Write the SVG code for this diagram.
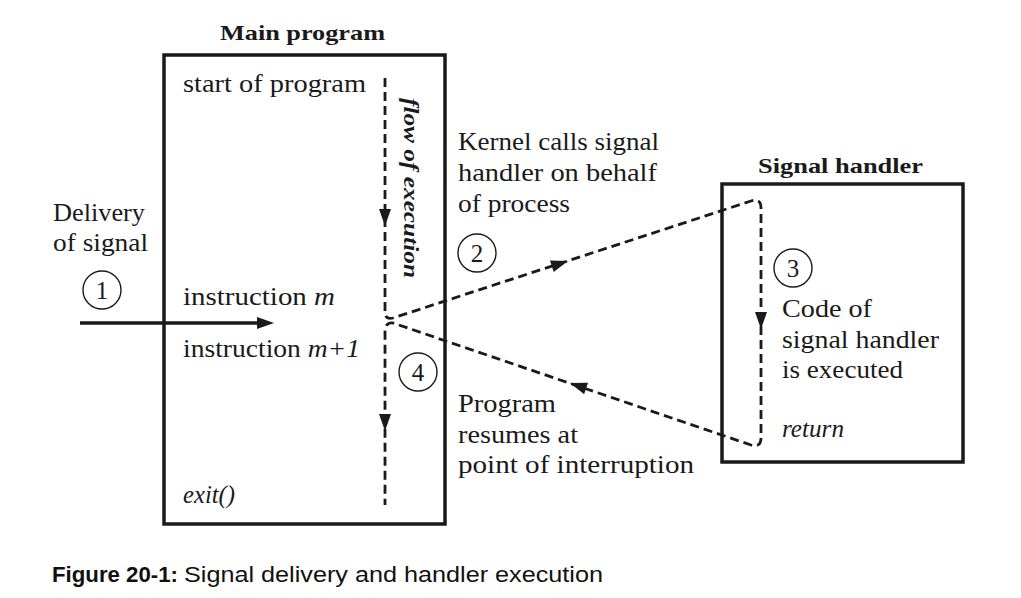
<svg xmlns="http://www.w3.org/2000/svg" xmlns:xlink="http://www.w3.org/1999/xlink" width="1021" height="598" viewBox="0 0 1021 598">
<style>
.box{fill:none;stroke:#1a1a1a;stroke-width:3.5}
.t{font-family:"Liberation Serif","Times New Roman",serif;font-size:25px;fill:#1a1a1a}
.b{font-weight:bold;font-size:22px}
.i{font-style:italic}
.flow{fill:none;stroke:#1a1a1a;stroke-width:2.8;stroke-dasharray:9 5}
.solid{fill:none;stroke:#1a1a1a;stroke-width:3.5}
.ah{fill:#1a1a1a}
.num{fill:none;stroke:#1a1a1a;stroke-width:1.4}
.nt{font-family:"Liberation Serif","Times New Roman",serif;font-size:25px;fill:#1a1a1a;text-anchor:middle}
.cap{font-family:"Liberation Sans",Arial,sans-serif;font-size:22px;fill:#111}
</style>
<defs>
<path id="ah" d="M0,0 L-17,-6 L-17,6 Z"/>
</defs>
<rect width="1021" height="598" fill="#fff"/>

<g id="main-program">
<rect class="box" x="164" y="55" width="281" height="469"/>
<text class="t b" x="220" y="40" textLength="165" lengthAdjust="spacingAndGlyphs">Main program</text>
<text class="t" x="183" y="92" textLength="183" lengthAdjust="spacingAndGlyphs">start of program</text>
<text class="t" x="183" y="305" textLength="152" lengthAdjust="spacingAndGlyphs">instruction <tspan class="i">m</tspan></text>
<text class="t" x="183" y="357" textLength="177" lengthAdjust="spacingAndGlyphs">instruction <tspan class="i">m+1</tspan></text>
<text class="t i" x="183" y="503" textLength="52" lengthAdjust="spacingAndGlyphs">exit()</text>
<text class="t b i" transform="translate(404,98) rotate(90)" textLength="180" lengthAdjust="spacingAndGlyphs">flow of execution</text>
</g>

<g id="signal-handler">
<rect class="box" x="722" y="184" width="241" height="278"/>
<text class="t b" x="758" y="173" textLength="165" lengthAdjust="spacingAndGlyphs">Signal handler</text>
<text class="t" x="782" y="317" textLength="90" lengthAdjust="spacingAndGlyphs">Code of</text>
<text class="t" x="782" y="348" textLength="157" lengthAdjust="spacingAndGlyphs">signal handler</text>
<text class="t" x="782" y="378" textLength="121" lengthAdjust="spacingAndGlyphs">is executed</text>
<text class="t i" x="782" y="437" textLength="62" lengthAdjust="spacingAndGlyphs">return</text>
</g>

<g id="step1">
<text class="t" x="53" y="221" textLength="92" lengthAdjust="spacingAndGlyphs">Delivery</text>
<text class="t" x="53" y="251" textLength="95" lengthAdjust="spacingAndGlyphs">of signal</text>
<circle class="num" cx="102" cy="290" r="19"/>
<text class="nt" x="102" y="299">1</text>
</g>

<g id="step2">
<text class="t" x="458" y="150" textLength="201" lengthAdjust="spacingAndGlyphs">Kernel calls signal</text>
<text class="t" x="458" y="181" textLength="199" lengthAdjust="spacingAndGlyphs">handler on behalf</text>
<text class="t" x="458" y="212" textLength="112" lengthAdjust="spacingAndGlyphs">of process</text>
<circle class="num" cx="477" cy="253" r="19"/>
<text class="nt" x="477" y="262">2</text>
</g>

<g id="step3">
<circle class="num" cx="793" cy="268" r="19"/>
<text class="nt" x="793" y="277">3</text>
</g>

<g id="step4">
<circle class="num" cx="418" cy="372" r="19"/>
<text class="nt" x="418" y="381">4</text>
<text class="t" x="458" y="412" textLength="98" lengthAdjust="spacingAndGlyphs">Program</text>
<text class="t" x="458" y="443" textLength="120" lengthAdjust="spacingAndGlyphs">resumes at</text>
<text class="t" x="458" y="473" textLength="236" lengthAdjust="spacingAndGlyphs">point of interruption</text>
</g>

<g id="connectors">
<path class="flow" d="M385,78 V312 Q385,320 393,318 L751,201 Q761,198 761,208 V438 Q761,448 751,445 L393,323 Q385,322 385,332 V505"/>
<line class="solid" x1="80" y1="323" x2="258" y2="323"/>
<use xlink:href="#ah" class="ah" transform="translate(274,323)"/>
<use xlink:href="#ah" class="ah" transform="translate(385,226) rotate(90)"/>
<use xlink:href="#ah" class="ah" transform="translate(568,261) rotate(-18)"/>
<use xlink:href="#ah" class="ah" transform="translate(761,329) rotate(90)"/>
<use xlink:href="#ah" class="ah" transform="translate(570,383) rotate(199)"/>
<use xlink:href="#ah" class="ah" transform="translate(385,431) rotate(90)"/>
</g>

<g id="caption">
<text class="cap" x="52" y="582"><tspan font-weight="bold" textLength="126" lengthAdjust="spacingAndGlyphs">Figure 20-1:</tspan><tspan x="184" textLength="419" lengthAdjust="spacingAndGlyphs">Signal delivery and handler execution</tspan></text>
</g>
</svg>
